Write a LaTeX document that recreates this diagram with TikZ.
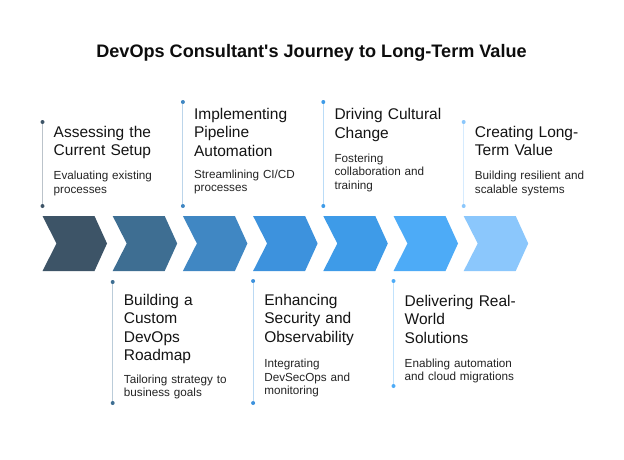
\documentclass[tikz,border=0pt]{standalone}
\usepackage{fontspec}
\setmainfont{Liberation Sans}
\usetikzlibrary{positioning}
\definecolor{stepc1}{HTML}{3D5467}
\definecolor{stepc2}{HTML}{3E6E92}
\definecolor{stepc3}{HTML}{4087C3}
\definecolor{stepc4}{HTML}{3D92DD}
\definecolor{stepc5}{HTML}{3E9BE8}
\definecolor{stepc6}{HTML}{4DABF7}
\definecolor{stepc7}{HTML}{8BC7FC}
\def\StepGap{70.2}
\def\TextShift{11}
\tikzset{
  dot/.style={circle,fill=#1,inner sep=0pt,minimum size=4pt},
  guide/.style={#1!35,line width=0.9pt},
  stagetitle/.style={anchor=base west,inner sep=0pt,text width=150pt,align=left,
    font=\fontsize{15.5}{18.5}\selectfont,text=black!92},
  stagetext/.style={anchor=base west,inner sep=0pt,text width=150pt,align=left,
    font=\fontsize{11.7}{13.5}\selectfont,text=black!86},
}
% one stage: index, top dot, bottom dot, title baseline, title, text baseline, text
\newcommand{\StageItem}[7]{%
  \pgfmathsetmacro{\StageX}{42.5+\StepGap*(#1-1)}
  \node[dot=stepc#1] (top#1) at (\StageX,#2) {};
  \node[dot=stepc#1] (bot#1) at (\StageX,#3) {};
  \draw[guide=stepc#1] (top#1) -- (bot#1);
  \node[stagetitle] (title#1) at (\StageX+\TextShift,#4) {#5};
  \node[stagetext] (desc#1) at (\StageX+\TextShift,#6) {#7};
}
\begin{document}
\begin{tikzpicture}[x=1pt,y=-1pt]
  \useasboundingbox[fill=white] (0,0) rectangle (624,460);
  \node[anchor=base,inner sep=0pt,font=\bfseries\fontsize{18.1}{22}\selectfont,text=black!95]
    (heading) at (311.5,58) {DevOps Consultant\textquotesingle s Journey to Long-Term Value};
  % chevrons
  \foreach \i in {1,...,7}{
    \pgfmathsetmacro{\ChevX}{42.5+\StepGap*(\i-1)}
    \fill[stepc\i] (\ChevX,216) -- ++(52,0) -- ++(12.5,27.5) -- ++(-12.5,27.5)
      -- ++(-52,0) -- ++(14,-27.5) -- cycle;
  }
  % stages above
  \StageItem{1}{122}{206}{137}{Assessing the\\Current Setup}{179.5}{Evaluating existing\\processes}
  \StageItem{3}{102}{206}{119}{Implementing\\Pipeline\\Automation}{178}{Streamlining CI/CD\\processes}
  \StageItem{5}{102}{206}{119.5}{Driving Cultural\\Change}{162}{Fostering\\collaboration and\\training}
  \StageItem{7}{122}{206}{137}{Creating Long-\\Term Value}{179.5}{Building resilient and\\scalable systems}
  % stages below
  \StageItem{2}{282}{403}{305}{Building a\\Custom\\DevOps\\Roadmap}{383}{Tailoring strategy to\\business goals}
  \StageItem{4}{281}{403}{305}{Enhancing\\Security and\\Observability}{367.5}{Integrating\\DevSecOps and\\monitoring}
  \StageItem{6}{281}{386}{306}{Delivering Real-\\World\\Solutions}{367}{Enabling automation\\and cloud migrations}
\end{tikzpicture}
\end{document}
